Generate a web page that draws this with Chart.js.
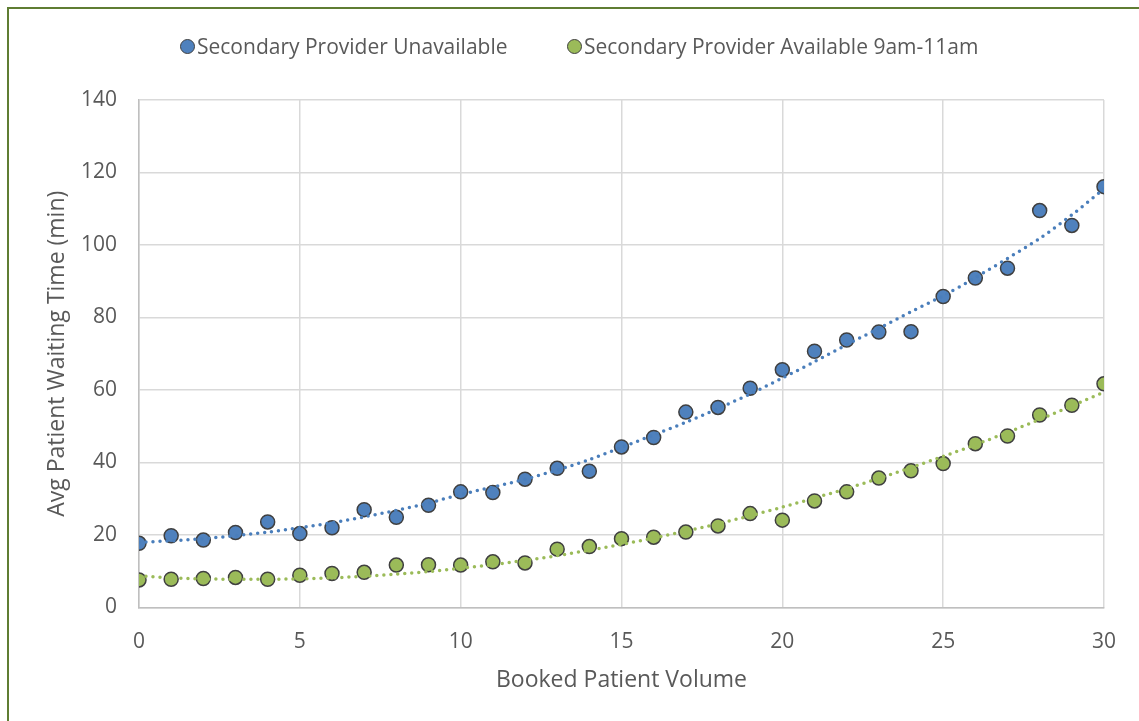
<!DOCTYPE html>
<html>
<head>
<meta charset="utf-8">
<script src="https://cdn.jsdelivr.net/npm/chart.js@4"></script>
<style>
  html, body { margin: 0; padding: 0; background: #fff; overflow: hidden; }
  #wrap { position: relative; width: 1139px; height: 721px; }
  #frame { position: absolute; left: 7px; top: 7px; width: 1200px; height: 800px;
           border: 2px solid #5f7d32; pointer-events: none; }
  .lg { position: absolute; top: 32px; height: 28px; display: flex; align-items: center;
        font: 21px 'Open Sans', 'Noto Sans', sans-serif; color: #595959; white-space: nowrap; }
  .lg i { display: inline-block; width: 13px; height: 13px; border-radius: 50%;
          border: 1px solid #404040; margin-right: 2px; }
</style>
</head>
<body>
<div id="wrap">
  <canvas id="chart"></canvas>
  <div id="frame"></div>
</div>
<script>
// booked patient volume (x)
const volumes = [0,1,2,3,4,5,6,7,8,9,10,11,12,13,14,15,16,17,18,19,20,21,22,23,24,25,26,27,28,29,30];
// avg waiting time, secondary provider unavailable
const unavailWait = [17.7,19.8,18.6,20.7,23.6,20.4,22.0,27.0,24.9,28.2,31.9,31.7,35.4,38.4,37.6,44.3,46.9,53.9,55.2,60.5,65.6,70.7,73.8,76.0,76.1,85.8,90.9,93.6,109.5,105.4,116.1];
// avg waiting time, secondary provider available 9am-11am
const availWait = [7.6,7.8,8.0,8.3,7.8,8.9,9.4,9.7,11.7,11.8,11.7,12.6,12.3,16.1,16.8,19.0,19.4,20.8,22.5,25.9,24.1,29.4,31.9,35.7,37.7,39.7,45.2,47.3,53.1,55.8,61.7];
// trendline values
const unavailTrend = [18.0,18.4,19.0,19.8,20.8,22.0,23.4,25.0,26.8,28.8,31.2,33.2,35.4,37.9,40.8,44.2,47.6,51.1,54.9,58.9,63.3,67.8,72.5,77.0,81.6,86.0,91.0,96.3,101.8,108.3,115.5];
const availTrend = [8.7,8.2,7.9,7.8,7.8,7.9,8.2,8.6,9.2,9.9,10.8,11.8,13.0,14.3,15.8,17.4,19.2,21.1,23.1,25.3,27.7,30.2,32.8,35.6,38.6,41.7,44.9,48.3,51.9,55.6,59.4];

const seriesNames = ['Secondary Provider Unavailable', 'Secondary Provider Available 9am-11am'];
const yTicks = [0, 20, 40, 60, 80, 100, 120, 140];
const xTicks = [0, 5, 10, 15, 20, 25, 30];

const BLUE = '#4f81bd', GREEN = '#9bbb59';
const FONT = "'Open Sans', 'Noto Sans', sans-serif";
const TEXT = '#595959';

// legend as html, placed like the original
const legendLeft = [180, 567];
[BLUE, GREEN].forEach((c, i) => {
    const d = document.createElement('div');
    d.className = 'lg';
    d.style.left = legendLeft[i] + 'px';
    d.innerHTML = '<i style="background:' + c + '"></i><span>' + seriesNames[i] + '</span>';
    document.getElementById('wrap').appendChild(d);
});

const toPts = (ys) => volumes.map((x, i) => ({x: x, y: ys[i]}));

const trend = (ys, color) => ({
    label: 'trend',
    data: toPts(ys),
    showLine: true,
    borderColor: color,
    borderWidth: 3.5,
    borderDash: [0, 7],
    borderCapStyle: 'round',
    pointRadius: 0,
    tension: 0.3,
    order: 0
});

const markers = (label, ys, color) => ({
    label: label,
    data: toPts(ys),
    showLine: false,
    backgroundColor: color,
    borderColor: '#404040',
    borderWidth: 1.5,
    pointRadius: 7,
    pointHoverRadius: 7,
    order: 1
});

new Chart(document.getElementById('chart'), {
    type: 'scatter',
    data: {
        datasets: [
            markers(seriesNames[0], unavailWait, BLUE),
            markers(seriesNames[1], availWait, GREEN),
            trend(unavailTrend, '#4a7ebb'),
            trend(availTrend, GREEN)
        ]
    },
    options: {
        responsive: true,
        maintainAspectRatio: false,
        animation: false,
        layout: { padding: { left: 18, right: 35, top: 100, bottom: 27 } },
        plugins: {
            tooltip: { enabled: false },
            legend: { display: false }
        },
        scales: {
            x: {
                type: 'linear',
                min: 0,
                max: 30,
                afterBuildTicks: (s) => { s.ticks = xTicks.map(v => ({value: v})); },
                afterFit: (s) => { s.height = 86.5; },
                grid: { color: '#d9d9d9', lineWidth: 1.5, drawTicks: false },
                border: { color: '#bfbfbf', width: 1.5 },
                ticks: { color: TEXT, padding: 22, font: { family: FONT, size: 21 } },
                title: { display: true, text: 'Booked Patient Volume', color: TEXT,
                         padding: { top: 0, bottom: 0 }, font: { family: FONT, size: 23 } }
            },
            y: {
                min: 0,
                max: 140,
                afterBuildTicks: (s) => { s.ticks = yTicks.map(v => ({value: v})); },
                afterFit: (s) => { s.width = 121; },
                grid: { color: '#d9d9d9', lineWidth: 1.5, drawTicks: false },
                border: { color: '#bfbfbf', width: 1.5 },
                ticks: { color: TEXT, padding: 22, font: { family: FONT, size: 21 } },
                title: { display: true, text: 'Avg Patient Waiting Time (min)', color: TEXT,
                         padding: { top: 26, bottom: 0 }, font: { family: FONT, size: 23 } }
            }
        }
    }
});
</script>
</body>
</html>
